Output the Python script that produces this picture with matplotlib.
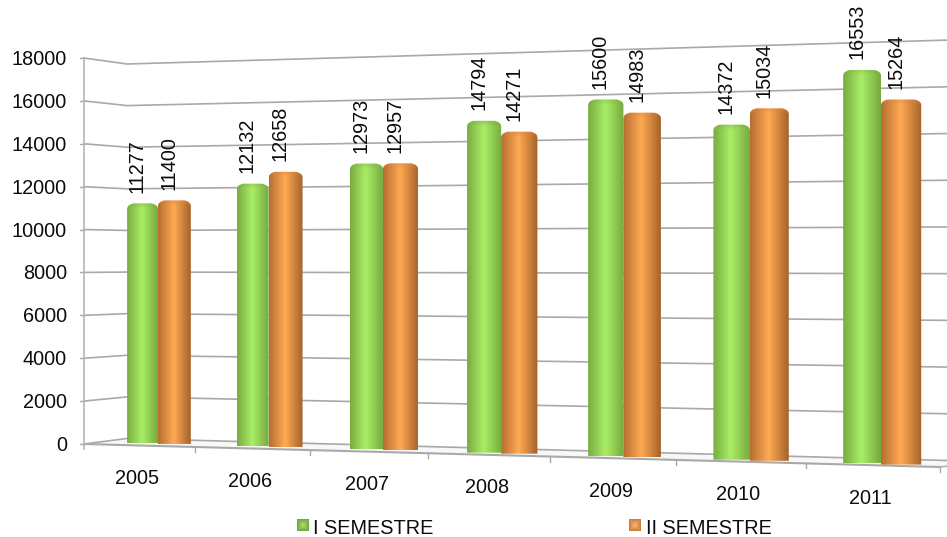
import numpy as np
import matplotlib
matplotlib.use('Agg')
import matplotlib.pyplot as plt
from matplotlib.path import Path
from matplotlib.patches import PathPatch, Polygon

plt.rcParams['font.family'] = ['Liberation Sans', 'DejaVu Sans']

anni = ['2005', '2006', '2007', '2008', '2009', '2010', '2011']
sem1 = [11277, 12132, 12973, 14794, 15600, 14372, 16553]
sem2 = [11400, 12658, 12957, 14271, 14983, 15034, 15264]
tacche_y = [0, 2000, 4000, 6000, 8000, 10000, 12000, 14000, 16000, 18000]
nomi = ['I SEMESTRE', 'II SEMESTRE']

VMAX = 18000
N = len(anni)
FONT = 14.3
GRIGIO = '#a9a9a9'
NERO = '#0c0c0c'


def piano(u0, x0, y0b, y0t, u1, x1, y1b, y1t, fx=1.0):
    # plane in perspective: verticals stay vertical, depth scale is taken from the two edges
    k = (y1b - y1t) / (y0b - y0t)
    c = (1 - k) / (k * u1 - u0)
    w0, w1 = 1 + c * u0, 1 + c * u1
    d = (y1b * w1 - y0b * w0) / (u1 - u0)
    f = y0b * w0 - d * u0
    e = (y0t - y0b) * w0 / VMAX
    # horizontal spacing can use a weaker perspective than the vertical scale
    cx = c * fx
    q0, q1 = 1 + cx * u0, 1 + cx * u1
    a = (x1 * q1 - x0 * q0) / (u1 - u0)
    b = x0 * q0 - a * u0

    def proj(u, v):
        w = 1 + c * u
        return (a * u + b) / (1 + cx * u), (d * u + e * v + f) / w
    return proj


fronte = piano(0, 84, 444, 58, 7, 940, 467, 37)
fondo = piano(0, 127, 438.5, 64, 7, 985, 461.5, 39)
barre = piano(0.5, 158, 443.5, 61.5, 6.5, 881, 464, 36, fx=0.9)

fig = plt.figure(figsize=(9.47, 5.37), dpi=100)
ax = fig.add_axes([0, 0, 1, 1])
ax.axis('off')

# floor
xa, ya = fronte(0, 0)
xb, yb = fronte(7, 0)
xc, yc = fondo(7, 0)
xd, yd = fondo(0, 0)
ax.add_patch(Polygon([(xa, ya), (xb, yb), (xc, yc), (xd, yd)], fc='#f8f8f8', ec='none', zorder=1))
ax.plot([xa, xb], [ya, yb], color=GRIGIO, lw=1.5, zorder=2)
ax.plot([xb, xc], [yb, yc], color=GRIGIO, lw=1.0, zorder=2)

# grid lines: side wall then back wall
for v in tacche_y:
    xs0, ys0 = fronte(0, v)
    xs1, ys1 = fondo(0, v)
    xs2, ys2 = fondo(7, v)
    ax.plot([xs0, xs1, xs2], [ys0, ys1, ys2], color=GRIGIO, lw=1.2, zorder=2, solid_joinstyle='miter')
    ax.plot([xs0 - 4, xs0], [ys0, ys0], color=GRIGIO, lw=1.0, zorder=2)
    ax.text(67, ys0 + 1.5, str(v), ha='right', va='center', fontsize=FONT, color=NERO, zorder=6)

x_ass, y_alto = fronte(0, VMAX)
ax.plot([x_ass, x_ass], [y_alto, ya + 5], color='#b5b5b5', lw=1.2, zorder=2)

# ticks under the floor and year labels
for i in range(N + 1):
    xt, yt = fronte(i, 0)
    if i > 0:
        ax.plot([xt, xt], [yt, yt + 5], color=GRIGIO, lw=1.0, zorder=2)
for i, anno in enumerate(anni):
    xt, yt = fronte(i + 0.5, 0)
    ax.text(xt - 2, yt + 33, anno, ha='center', va='center', fontsize=FONT, color=NERO, zorder=6)


def sfumatura(buio, chiaro, scuro, cima):
    # cylinder shading across the bar, with a slightly darker cap at the top
    t = np.linspace(0, 1, 64)
    stops = np.array([buio, chiaro, scuro]) / 255
    rgb = np.stack([np.interp(t, [0, 0.48, 1], stops[:, k]) for k in range(3)], axis=1)
    return rgb, np.array(cima) / 255


def barra(u0, u1, valore, rgb, cima, z):
    x0, yb0 = barre(u0, 0)
    x1, yb1 = barre(u1, 0)
    _, yt0 = barre(u0, valore)
    _, yt1 = barre(u1, valore)
    base = (yb0 + yb1) / 2
    top = (yt0 + yt1) / 2
    # nearly flat top with rounded shoulders
    r = 4.5
    verts = [(x0, base), (x0, top + r), (x0, top + 0.5), (x0 + r + 2, top - 1), (x1 - r - 2, top - 1),
             (x1, top + 0.5), (x1, top + r), (x1, base), (x0, base)]
    codes = [Path.MOVETO, Path.LINETO, Path.CURVE3, Path.CURVE3, Path.LINETO,
             Path.CURVE3, Path.CURVE3, Path.LINETO, Path.CLOSEPOLY]
    h = 200
    img = np.repeat(rgb[np.newaxis, :, :], h, axis=0)
    alto = base - top + 3
    for j in range(h):
        py = j / (h - 1) * alto
        m = max(0, 1 - py / 7)
        img[j] = img[j] * (1 - 0.55 * m) + cima * 0.55 * m
    im = ax.imshow(img, extent=(x0, x1, base, top - 3), aspect='auto', interpolation='bilinear',
                   origin='upper', zorder=z)
    im.set_clip_path(PathPatch(Path(verts, codes), transform=ax.transData))


larg1 = 0.285
larg2 = 0.30
verde, cima_v = sfumatura((120, 172, 64), (170, 238, 102), (118, 170, 62), (122, 176, 68))
aranc, cima_a = sfumatura((182, 110, 48), (255, 170, 84), (165, 98, 42), (222, 130, 58))

for i in range(N):
    uc = i + 0.5
    barra(uc - larg1, uc, sem1[i], verde, cima_v, 3)
    barra(uc, uc + larg2, sem2[i], aranc, cima_a, 4)
    for du, val in ((-larg1 / 2, sem1[i]), (larg2 / 2, sem2[i])):
        xv, yv = barre(uc + du, val)
        ax.text(xv - 5.5, yv - 11.5, str(val), rotation=90, ha='center', va='bottom',
                fontsize=FONT, color=NERO, zorder=6)


def quadretto(x0, y0, lato, bordo, centro):
    # legend key: bevelled square, lighter in the middle
    t = np.linspace(-1, 1, 12)
    dist = np.maximum(np.abs(t)[np.newaxis, :], np.abs(t)[:, np.newaxis])[:, :, np.newaxis]
    img = np.array(centro) / 255 * (1 - dist) + np.array(bordo) / 255 * dist
    ax.imshow(img, extent=(x0, x0 + lato, y0 + lato, y0), aspect='auto',
              interpolation='bilinear', origin='upper', zorder=5)


quadretto(297, 520, 11.5, (118, 165, 70), (172, 226, 100))
quadretto(629, 520, 11.5, (205, 125, 60), (250, 185, 120))
ax.text(313, 528, nomi[0], ha='left', va='center', fontsize=FONT, color=NERO, zorder=6)
ax.text(646, 528, nomi[1], ha='left', va='center', fontsize=FONT, color=NERO, zorder=6)

ax.set_xlim(0, 947)
ax.set_ylim(537, 0)
fig.savefig('out.png', dpi=100, facecolor='white')
